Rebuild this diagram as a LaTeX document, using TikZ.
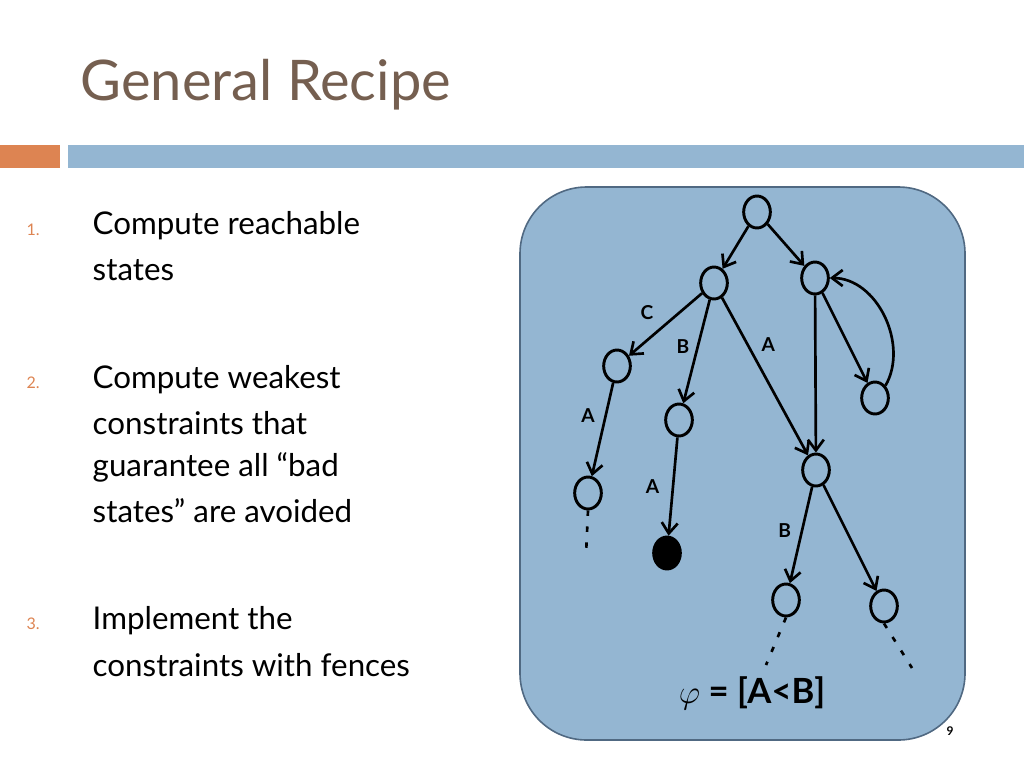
\documentclass[tikz,border=0pt]{standalone}
\usepackage{fontspec}
\setmainfont{Lato}
\usetikzlibrary{shapes.geometric,arrows.meta}
\definecolor{ttl}{RGB}{117,95,80}
\definecolor{org}{RGB}{221,132,82}
\definecolor{blu}{RGB}{148,182,210}
\definecolor{bord}{RGB}{80,105,130}
\begin{document}
\begin{tikzpicture}[x=0.75pt,y=-0.75pt,
 st/.style={draw,line width=2.2pt,ellipse,minimum width=20pt,minimum height=24pt,inner sep=0pt},
 ed/.style={line width=2pt,-{Straight Barb[length=8pt,width=12pt]}},
 lb/.style={font=\bfseries\Large},
 body/.style={anchor=west,font=\fontsize{23.5}{28}\selectfont,text=black},
 num/.style={anchor=west,font=\fontsize{12}{14}\selectfont,text=org}]
\useasboundingbox (0,0) rectangle (1024,768);
\node[anchor=west,text=ttl,font=\fontsize{42}{48}\selectfont] (title) at (76,85) {General Recipe};
\fill[org] (0,145) rectangle (60,168);
\fill[blu] (68,145) rectangle (1024,168);
\node[num] (n1) at (22,230) {1.};
\node[body] (t1) at (88,226) {Compute reachable};
\node[body] (t1b) at (88,270) {states};
\node[num] (n2) at (22,383) {2.};
\node[body] (t2) at (88,380) {Compute weakest};
\node[body] (t2b) at (88,423) {constraints that};
\node[body] (t2c) at (88,467) {guarantee all “bad};
\node[body] (t2d) at (88,511) {states” are avoided};
\node[num] (n3) at (22,624) {3.};
\node[body] (t3) at (88,621) {Implement the};
\node[body] (t3b) at (88,665) {constraints with fences};
\draw[fill=blu,draw=bord,line width=1.2pt,rounded corners=50pt] (520,187) rectangle (965,740);
\node[st] (r) at (757,212) {};
\node[st] (a) at (714,283) {};
\node[st] (b) at (815,278) {};
\node[st] (c) at (617,366) {};
\node[st] (d) at (679,420) {};
\node[st] (e) at (875,398) {};
\node[st] (f) at (816,470) {};
\node[st] (g) at (588,493) {};
\node[st,fill=black] (h) at (667,553) {};
\node[st] (i) at (786,600) {};
\node[st] (j) at (884,606) {};
\draw[ed] (r) -- (a);
\draw[ed] (r) -- (b);
\draw[ed] (a) -- node[lb,above left=2pt,pos=0.55] {C} (c);
\draw[ed] (a) -- node[lb,left=2pt,pos=0.45] {B} (d);
\draw[ed] (a) -- node[lb,right=6pt,pos=0.3] {A} (f);
\draw[ed] (b) -- (f);
\draw[ed] (b) -- (e);
\draw[ed] (e.north east) to[out=60,in=0] (b.east);
\draw[ed] (c) -- node[lb,left=4pt,pos=0.35] {A} (g);
\draw[ed] (d) -- node[lb,left=6pt,pos=0.5] {A} (h);
\draw[ed] (f) -- node[lb,left=4pt,pos=0.45] {B} (i);
\draw[ed] (f) -- (j);
\coordinate (gd) at (586,555);
\coordinate (id) at (766,665);
\coordinate (jd) at (912,668);
\draw[line width=2pt,dash pattern=on 4pt off 8pt] (g.south) -- (gd);
\draw[line width=2pt,dash pattern=on 4pt off 8pt] (i.south) -- (id);
\draw[line width=2pt,dash pattern=on 4pt off 8pt] (j.south) -- (jd);
\node[font=\bfseries\fontsize{26}{30}\selectfont] (phi) at (752,693) {$\varphi$ = [A<B]};
\node[font=\small\bfseries] (pg) at (950,731) {9};
\end{tikzpicture}
\end{document}
